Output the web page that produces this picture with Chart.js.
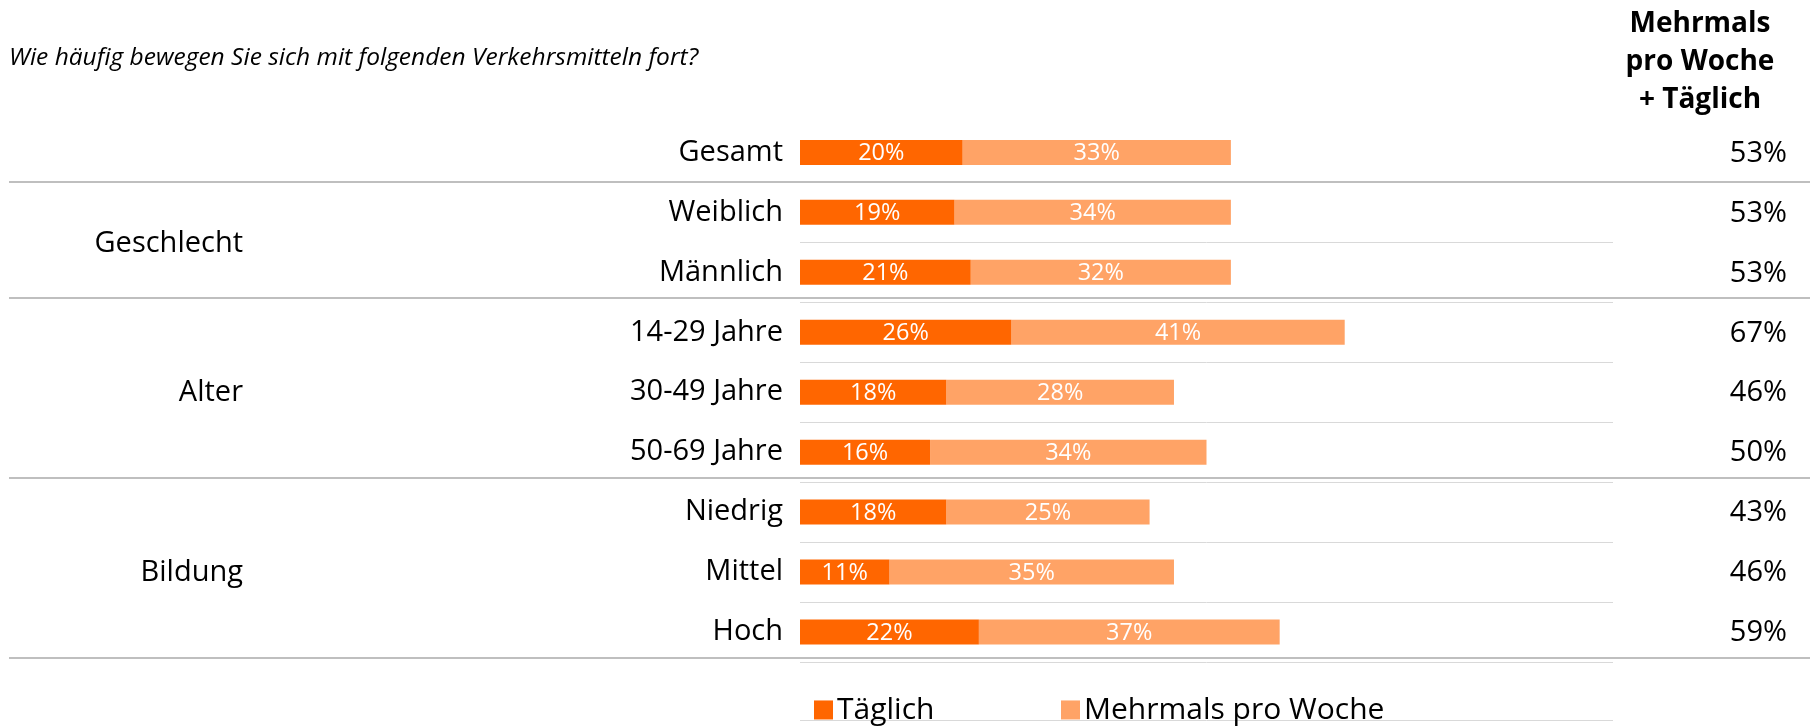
<!DOCTYPE html>
<html>
<head>
<meta charset="utf-8">
<script src="https://cdn.jsdelivr.net/npm/chart.js@4.4.1/dist/chart.umd.min.js"></script>
<style>
  html, body { margin: 0; padding: 0; background: #fff; }
  #wrap { width: 1810px; height: 726px; }
</style>
</head>
<body>
<div id="wrap"><canvas id="grafic"></canvas></div>
<script>
const categories = ['Gesamt', 'Weiblich', 'Männlich', '14-29 Jahre', '30-49 Jahre', '50-69 Jahre', 'Niedrig', 'Mittel', 'Hoch'];
const taeglich = [20, 19, 21, 26, 18, 16, 18, 11, 22];
const mehrmals = [33, 34, 32, 41, 28, 34, 25, 35, 37];
const summe = [53, 53, 53, 67, 46, 50, 43, 46, 59];
const gruppen = ['Geschlecht', 'Alter', 'Bildung'];
const gruppenMitte = [1.5, 4, 7];
const trennlinien = [0.5, 2.5, 5.5, 8.5];
const kopfZeilen = ['Mehrmals', 'pro Woche', '+ Täglich'];
const serien = ['Täglich', 'Mehrmals pro Woche'];
const farben = ['#ff6600', '#ffa366'];
const titel = 'Wie häufig bewegen Sie sich mit folgenden Verkehrsmitteln fort?';

const schrift = '"Open Sans", "Noto Sans", sans-serif';

// labels in the bars, totals column, groups, separators, legend
const extras = {
    id: 'extras',
    afterDatasetsDraw(chart) {
        const ctx = chart.ctx;
        ctx.save();
        ctx.font = '23.5px ' + schrift;
        ctx.fillStyle = '#fff';
        ctx.textAlign = 'center';
        ctx.textBaseline = 'middle';
        chart.data.datasets.forEach((ds, di) => {
            chart.getDatasetMeta(di).data.forEach((bar, i) => {
                const p = bar.getProps(['x', 'y', 'base'], true);
                ctx.fillText(ds.data[i] + '%', (p.x + p.base) / 2, p.y + 1);
            });
        });
        ctx.restore();
    },
    afterDraw(chart) {
        const ctx = chart.ctx;
        const area = chart.chartArea;
        const y = chart.scales.y;
        const zeile = (area.bottom - area.top) / categories.length;
        ctx.save();

        // group separators (the table lines sit a little above the row borders)
        ctx.strokeStyle = '#bfbfbf';
        ctx.lineWidth = 2;
        trennlinien.forEach((t, i) => {
            const py = Math.round(y.getPixelForValue(t)) - (i === 0 ? 0 : 4);
            ctx.beginPath();
            ctx.moveTo(9, py);
            ctx.lineTo(chart.width, py);
            ctx.stroke();
        });

        // light line under the legend
        ctx.strokeStyle = '#d9d9d9';
        ctx.lineWidth = 1;
        const unten = Math.round(area.bottom + zeile - 1.5) + 0.5;
        ctx.beginPath();
        ctx.moveTo(area.left, unten);
        ctx.lineTo(area.right, unten);
        ctx.stroke();

        ctx.fillStyle = '#000';
        ctx.textBaseline = 'middle';

        // group labels
        ctx.font = '29px ' + schrift;
        ctx.textAlign = 'right';
        gruppen.forEach((g, i) => {
            ctx.fillText(g, 243, y.getPixelForValue(gruppenMitte[i]) + 1);
        });

        // totals column
        summe.forEach((s, i) => {
            ctx.fillText(s + '%', area.right + 174, y.getPixelForValue(i) + 1);
        });

        // header of totals column
        ctx.font = 'bold 28px ' + schrift;
        ctx.textAlign = 'center';
        ctx.textBaseline = 'alphabetic';
        kopfZeilen.forEach((z, i) => {
            ctx.fillText(z, area.right + 87, area.top - 90 + 38 * i);
        });

        // legend
        ctx.font = '30px ' + schrift;
        ctx.textAlign = 'left';
        const basis = area.bottom + zeile - 2.5;
        const startX = [area.left + 14, area.left + 261];
        serien.forEach((s, i) => {
            ctx.fillStyle = farben[i];
            ctx.fillRect(startX[i], basis - 19, 19, 19);
            ctx.fillStyle = '#000';
            ctx.fillText(s, startX[i] + 23, basis);
        });
        ctx.restore();
    }
};

new Chart(document.getElementById('grafic'), {
    type: 'bar',
    data: {
        labels: categories,
        datasets: [{
            label: serien[0],
            data: taeglich,
            backgroundColor: farben[0],
            barPercentage: 0.417,
            categoryPercentage: 1
        }, {
            label: serien[1],
            data: mehrmals,
            backgroundColor: farben[1],
            barPercentage: 0.417,
            categoryPercentage: 1
        }]
    },
    options: {
        indexAxis: 'y',
        responsive: true,
        maintainAspectRatio: false,
        animation: false,
        layout: {
            padding: { left: 9, right: 197, top: 0, bottom: 64 }
        },
        scales: {
            x: {
                display: false,
                stacked: true,
                min: 0,
                max: 100
            },
            y: {
                stacked: true,
                border: { display: false },
                grid: {
                    color: c => c.index === 0 ? 'rgba(0,0,0,0)' : '#d9d9d9',
                    lineWidth: 1,
                    drawTicks: false
                },
                ticks: {
                    color: '#000',
                    padding: 17,
                    font: { family: schrift, size: 29 }
                },
                afterFit: s => { s.width = 791; }
            }
        },
        plugins: {
            legend: { display: false },
            tooltip: { enabled: false },
            title: {
                display: true,
                text: titel,
                align: 'start',
                color: '#000',
                font: { family: schrift, size: 24.5, style: 'italic', weight: 'normal' },
                padding: { top: 43, bottom: 50 }
            }
        }
    },
    plugins: [extras]
});
</script>
</body>
</html>
